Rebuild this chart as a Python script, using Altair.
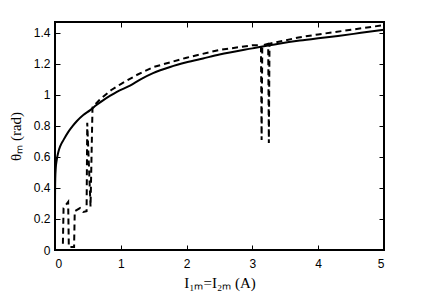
import altair as alt
import pandas as pd

# Solid curve
solid_x = [0.0, 0.0, 0.004, 0.012, 0.026, 0.05, 0.08, 0.13, 0.2, 0.27, 0.33, 0.43, 0.53, 0.63,
           0.73, 0.84, 0.94, 1.14, 1.3, 1.49, 1.75, 2.0, 2.25, 2.5, 3.0, 3.4, 3.72, 4.0, 4.3, 4.65, 5.0]
solid_y = [0.0, 0.3, 0.46, 0.53, 0.58, 0.63, 0.67, 0.71, 0.76, 0.80, 0.83, 0.87, 0.90, 0.935,
           0.965, 0.995, 1.02, 1.06, 1.10, 1.14, 1.18, 1.21, 1.235, 1.26, 1.30, 1.33, 1.35, 1.365, 1.38, 1.40, 1.42]

# Dashed curve (in drawing order)
dash_x = [0.12, 0.13, 0.20, 0.21, 0.29, 0.30, 0.38, 0.43, 0.48, 0.49, 0.54, 0.57, 0.68, 0.85,
          1.0, 1.25, 1.5, 1.75, 2.0, 2.5, 3.0, 3.13, 3.14, 3.15, 3.24, 3.25, 3.26, 3.7, 4.0, 4.5, 5.0]
dash_y = [0.04, 0.27, 0.31, 0.02, 0.02, 0.25, 0.27, 0.245, 0.25, 0.82, 0.28, 0.92, 0.97, 1.03,
          1.07, 1.13, 1.18, 1.21, 1.24, 1.29, 1.32, 1.32, 0.71, 1.32, 1.33, 0.69, 1.33, 1.37, 1.39, 1.42, 1.45]

x_ticks = [0.0, 1.0, 2.0, 3.0, 4.0, 5.0]
y_ticks = [0.0, 0.2, 0.4, 0.6, 0.8, 1.0, 1.2, 1.4]

solid = pd.DataFrame({"I": solid_x, "theta": solid_y, "k": list(range(len(solid_x)))})
dashed = pd.DataFrame({"I": dash_x, "theta": dash_y, "k": list(range(len(dash_x)))})

W, H = 329, 228
TL = 5  # inward tick length
xscale = alt.Scale(domain=[0, 5], nice=False, zero=False)
yscale = alt.Scale(domain=[0, 1.47], nice=False, zero=False)

LF = "Liberation Sans"
TF = "Liberation Serif"

# Inward ticks on both opposite edges are drawn as grid lines dashed so that only
# a short piece at each end of every grid line is visible.
x_axis = alt.Axis(orient="bottom", values=x_ticks, ticks=False, domain=False,
                  grid=True, gridColor="black", gridOpacity=1, gridWidth=1,
                  gridDash=[TL, H - 2 * TL],
                  format="~g", labelFont=LF, labelFontSize=12, labelColor="black", labelPadding=8,
                  title="I₁ₘ=I₂ₘ (A)", titleFont=TF, titleFontSize=15, titleFontWeight="normal",
                  titleColor="black", titleY=32, titleBaseline="middle")
y_axis = alt.Axis(orient="left", values=y_ticks, ticks=False, domain=False,
                  grid=True, gridColor="black", gridOpacity=1, gridWidth=1,
                  gridDash=[TL, W - 2 * TL],
                  format="~g", labelFont=LF, labelFontSize=12, labelColor="black", labelPadding=5,
                  title="θₘ (rad)", titleFont=TF, titleFontSize=15, titleFontWeight="normal",
                  titleColor="black", titleX=-40, titleY=H / 2, titleAngle=270,
                  titleBaseline="middle", titleAlign="center")

X = alt.X("I:Q", scale=xscale, axis=x_axis)
Y = alt.Y("theta:Q", scale=yscale, axis=y_axis)

solid_line = alt.Chart(solid).mark_line(color="black", strokeWidth=2, clip=True,
                                         interpolate="monotone").encode(
    x=X, y=Y, order=alt.Order("k:Q"))

dash_line = alt.Chart(dashed).mark_line(color="black", strokeWidth=2, strokeDash=[6, 4],
                                         strokeCap="butt", clip=True).encode(
    x=X, y=Y, order=alt.Order("k:Q"))

chart = alt.layer(solid_line, dash_line).properties(
    width=W, height=H,
    autosize=alt.AutoSizeParams(type="none"),
    padding={"left": 47, "top": 14, "right": 30, "bottom": 44},
    background="white",
).configure_view(stroke="black", strokeWidth=2)

chart.save("out.html", embed_options={"renderer": "svg", "actions": False})
